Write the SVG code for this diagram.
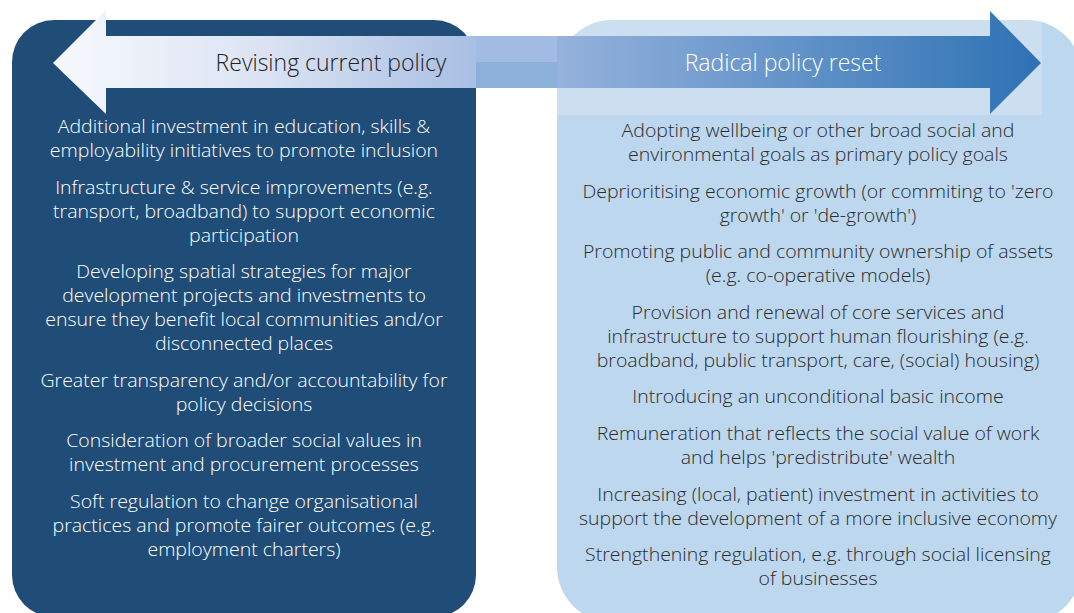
<svg xmlns="http://www.w3.org/2000/svg" width="1074" height="613" viewBox="0 0 1074 613">
<style>
.lt{font-family:"Open Sans","Liberation Sans",sans-serif;font-weight:300;font-size:17.5px;fill:#ffffff;text-anchor:middle}
.rt{font-family:"Open Sans","Liberation Sans",sans-serif;font-weight:300;font-size:17.5px;fill:#2b2b2b;text-anchor:middle}
.hd{font-family:"Open Sans","Liberation Sans",sans-serif;font-weight:300;font-size:23px;text-anchor:middle}
</style>
<defs>
<linearGradient id="gl" x1="53" y1="0" x2="476" y2="0" gradientUnits="userSpaceOnUse">
<stop offset="0" stop-color="#f7f9fd"/>
<stop offset="0.5" stop-color="#dbe3f3"/>
<stop offset="1" stop-color="#a8bee3"/>
</linearGradient>
<linearGradient id="gr" x1="557" y1="0" x2="1041" y2="0" gradientUnits="userSpaceOnUse">
<stop offset="0" stop-color="#95b2dc"/>
<stop offset="1" stop-color="#2e72b4"/>
</linearGradient>
<clipPath id="rc"><rect x="557" y="20" width="525" height="602" rx="55"/></clipPath>
</defs>
<g id="left-panel">
<rect x="12" y="20" width="464" height="597" rx="42" fill="#1f4d78"/>
</g>
<g id="right-panel">
<rect x="557" y="20" width="525" height="602" rx="55" fill="#bdd7ee"/>
<rect x="557" y="20" width="485" height="95" fill="#ffffff" opacity="0.22" clip-path="url(#rc)"/>
</g>
<g id="connectors">
<rect x="476" y="36" width="81" height="26" fill="#a2bbe2"/>
<rect x="476" y="62" width="81" height="26" fill="#8db0da"/>
<path id="arrow-left" d="M53,63 L106,10 L106,36 L476,36 L476,88 L106,88 L106,114 Z" fill="url(#gl)"/>
<path id="arrow-right" d="M1041,63 L990,11 L990,36 L557,36 L557,88 L990,88 L990,114 Z" fill="url(#gr)"/>
</g>
<g id="left-header"><text class="hd" x="331" y="71" fill="#222222">Revising current policy</text></g>
<g id="right-header"><text class="hd" x="783" y="71" fill="#ffffff">Radical policy reset</text></g>
<g id="left-items" transform="translate(244,1) scale(1.114,1) translate(-244,0)">
<text class="lt" x="244" y="132.5">Additional investment in education, skills &amp;</text>
<text class="lt" x="244" y="156.5">employability initiatives to promote inclusion</text>
<text class="lt" x="244" y="193.5">Infrastructure &amp; service improvements (e.g.</text>
<text class="lt" x="244" y="217.5">transport, broadband) to support economic</text>
<text class="lt" x="244" y="241.5">participation</text>
<text class="lt" x="244" y="277.5">Developing spatial strategies for major</text>
<text class="lt" x="244" y="301.5">development projects and investments to</text>
<text class="lt" x="244" y="325.5">ensure they benefit local communities and/or</text>
<text class="lt" x="244" y="349.5">disconnected places</text>
<text class="lt" x="244" y="386.5">Greater transparency and/or accountability for</text>
<text class="lt" x="244" y="410.5">policy decisions</text>
<text class="lt" x="244" y="446.5">Consideration of broader social values in</text>
<text class="lt" x="244" y="470.5">investment and procurement processes</text>
<text class="lt" x="244" y="507.5">Soft regulation to change organisational</text>
<text class="lt" x="244" y="531.5">practices and promote fairer outcomes (e.g.</text>
<text class="lt" x="244" y="555.5">employment charters)</text>
</g>
<g id="right-items" transform="translate(818,1) scale(1.114,1) translate(-818,0)">
<text class="rt" x="818" y="136.5">Adopting wellbeing or other broad social and</text>
<text class="rt" x="818" y="160.5">environmental goals as primary policy goals</text>
<text class="rt" x="818" y="197.5">Deprioritising economic growth (or commiting to 'zero</text>
<text class="rt" x="818" y="221.5">growth' or 'de-growth')</text>
<text class="rt" x="818" y="257.5">Promoting public and community ownership of assets</text>
<text class="rt" x="818" y="281.5">(e.g. co-operative models)</text>
<text class="rt" x="818" y="318.5">Provision and renewal of core services and</text>
<text class="rt" x="818" y="342.5">infrastructure to support human flourishing (e.g.</text>
<text class="rt" x="818" y="366.5">broadband, public transport, care, (social) housing)</text>
<text class="rt" x="818" y="402.5">Introducing an unconditional basic income</text>
<text class="rt" x="818" y="439.5">Remuneration that reflects the social value of work</text>
<text class="rt" x="818" y="463.5">and helps 'predistribute' wealth</text>
<text class="rt" x="818" y="500.5">Increasing (local, patient) investment in activities to</text>
<text class="rt" x="818" y="524.5">support the development of a more inclusive economy</text>
<text class="rt" x="818" y="560.5">Strengthening regulation, e.g. through social licensing</text>
<text class="rt" x="818" y="584.5">of businesses</text>
</g>
</svg>
